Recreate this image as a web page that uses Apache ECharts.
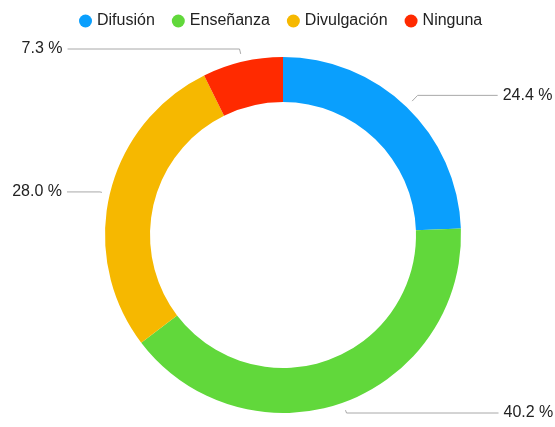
<!DOCTYPE html>
<html>
<head>
<meta charset="utf-8">
<script src="https://cdn.jsdelivr.net/npm/echarts@6/dist/echarts.min.js"></script>
<style>
  html, body { margin: 0; padding: 0; background: #fff; }
  #chart { width: 555px; height: 427px; }
</style>
</head>
<body>
<div id="chart"></div>
<script>
// datos del gráfico
const categories = ['Difusión', 'Enseñanza', 'Divulgación', 'Ninguna'];
const values = [24.4, 40.2, 28.0, 7.3];
const colors = ['#0a9ffd', '#61d83b', '#f6b800', '#ff2a00'];
// largo de las líneas de etiqueta (tramo radial, tramo horizontal)
const lineLen = [16, 11, 10, 13];
const lineLen2 = [80, 152, 33, 172];

const GAP = 8; // hueco entre el anillo y la línea

const chart = echarts.init(document.getElementById('chart'));

const data = categories.map((name, i) => ({
  name,
  value: values[i],
  itemStyle: { color: colors[i] },
  labelLine: { length: lineLen[i], length2: lineLen2[i] }
}));

chart.setOption({
  animation: false,
  textStyle: { fontFamily: 'Liberation Sans, Arial, sans-serif' },
  legend: {
    top: 8,
    left: 74,
    icon: 'circle',
    itemWidth: 13,
    itemHeight: 13,
    itemGap: 17,
    textStyle: { fontSize: 16, color: '#222' },
    data: categories
  },
  series: [
    {
      type: 'pie',
      center: [283, 235],
      radius: [133, 178],
      startAngle: 90,
      clockwise: true,
      avoidLabelOverlap: false,
      label: {
        show: true,
        position: 'outside',
        alignTo: 'none',
        bleedMargin: 0,
        overflow: 'none',
        distanceToLabelLine: 5,
        fontSize: 16,
        color: '#222',
        formatter: p => p.value.toFixed(1) + ' %'
      },
      labelLine: {
        show: true,
        lineStyle: { color: '#a8a8a8', width: 1 }
      },
      labelLayout: function (params) {
        const pts = params.labelLinePoints;
        if (!pts) return {};
        const p0 = pts[0], p1 = pts[1];
        const dx = p1[0] - p0[0], dy = p1[1] - p0[1];
        const d = Math.sqrt(dx * dx + dy * dy) || 1;
        const k = Math.min(GAP, d - 2) / d;
        return {
          labelLinePoints: [[p0[0] + dx * k, p0[1] + dy * k], p1, pts[2]]
        };
      },
      emphasis: { disabled: true },
      data
    }
  ]
});
</script>
</body>
</html>
